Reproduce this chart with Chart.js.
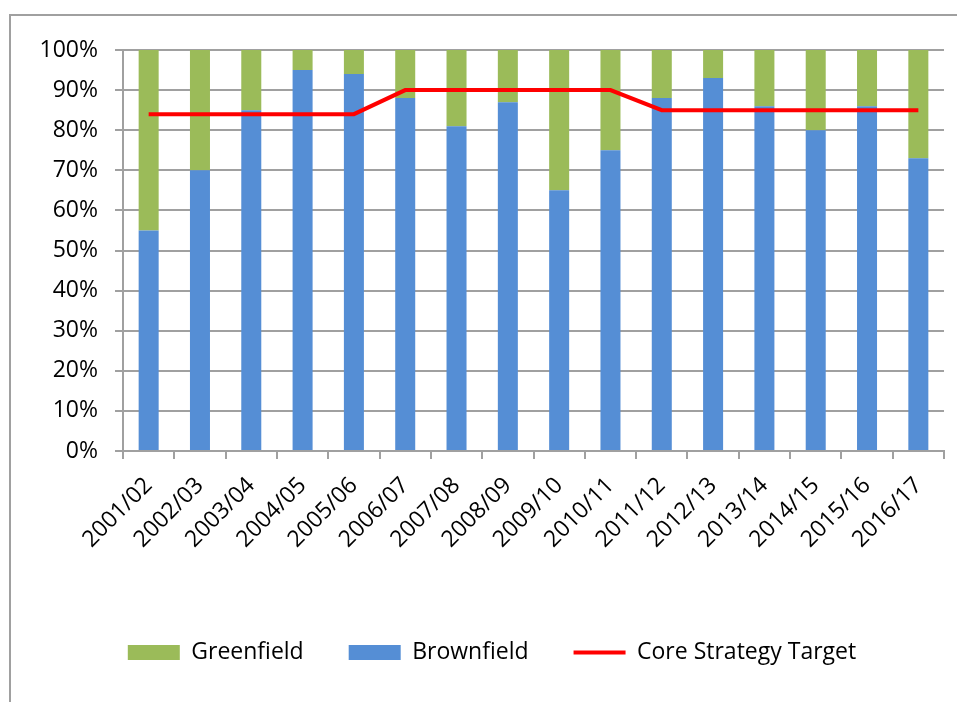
<!DOCTYPE html>
<html>
<head>
<meta charset="utf-8">
<script src="https://cdn.jsdelivr.net/npm/chart.js@4.4.1/dist/chart.umd.min.js"></script>
<style>
  body { margin: 0; background: #fff; overflow: hidden; }
  #frame { position: absolute; left: 9px; top: 14px; width: 1000px; height: 800px;
           border-top: 2px solid #a0a0a0; border-left: 2px solid #a0a0a0; }
  #wrap { position: absolute; left: 0; top: 0; width: 957px; height: 702px; }
</style>
</head>
<body>
<div id="frame"></div>
<div id="wrap"><canvas id="chart"></canvas></div>
<script>
const years = ['2001/02', '2002/03', '2003/04', '2004/05', '2005/06', '2006/07', '2007/08', '2008/09',
    '2009/10', '2010/11', '2011/12', '2012/13', '2013/14', '2014/15', '2015/16', '2016/17'];
const brownfield = [55, 70, 85, 95, 94, 88, 81, 87, 65, 75, 88, 93, 86, 80, 86, 73];
const greenfield = [45, 30, 15, 5, 6, 12, 19, 13, 35, 25, 12, 7, 14, 20, 14, 27];
const coreTarget = [84, 84, 84, 84, 84, 90, 90, 90, 90, 90, 85, 85, 85, 85, 85, 85];

// legend shows Greenfield first, then Brownfield, then the target line
const legendRank = [1, 0, 2];

const font = { family: '"Open Sans", sans-serif', size: 23 };
const gridGrey = '#a0a0a0';

window.landChart = {
    chart: null,
    render: function (canvasId) {
        const ctx = document.getElementById(canvasId).getContext('2d');
        if (window.landChart.chart) {
            window.landChart.chart.destroy();
        }
        window.landChart.chart = new Chart(ctx, {
            type: 'bar',
            data: {
                labels: years,
                datasets: [{
                    label: 'Brownfield',
                    data: brownfield,
                    backgroundColor: '#558ED5',
                    borderWidth: 0,
                    pointStyle: 'rect',
                    stack: 'land',
                    barPercentage: 0.39,
                    categoryPercentage: 1
                }, {
                    label: 'Greenfield',
                    data: greenfield,
                    backgroundColor: '#9BBB59',
                    borderWidth: 0,
                    pointStyle: 'rect',
                    stack: 'land',
                    barPercentage: 0.39,
                    categoryPercentage: 1
                }, {
                    type: 'line',
                    label: 'Core Strategy Target',
                    data: coreTarget,
                    borderColor: '#FF0000',
                    backgroundColor: '#FF0000',
                    borderWidth: 4,
                    pointRadius: 0,
                    pointStyle: 'line',
                    tension: 0,
                    fill: false,
                    stack: 'target',
                    order: -1
                }]
            },
            options: {
                responsive: true,
                maintainAspectRatio: false,
                animation: false,
                layout: { padding: { left: 40, right: 13, top: 50, bottom: 28 } },
                plugins: {
                    tooltip: { enabled: false },
                    legend: {
                        position: 'bottom',
                        labels: {
                            font: font,
                            color: '#000',
                            usePointStyle: true,
                            pointStyleWidth: 52,
                            boxHeight: 15,
                            padding: 45,
                            sort: (a, b) => legendRank[a.datasetIndex] - legendRank[b.datasetIndex]
                        }
                    }
                },
                scales: {
                    x: {
                        stacked: true,
                        offset: true,
                        grid: {
                            offset: true,
                            drawOnChartArea: false,
                            drawTicks: true,
                            tickLength: 8,
                            color: gridGrey,
                            lineWidth: 2
                        },
                        border: { color: gridGrey, width: 2 },
                        ticks: {
                            font: font,
                            color: '#000',
                            minRotation: 45,
                            maxRotation: 45,
                            autoSkip: false,
                            padding: 13
                        },
                        afterFit: function (scale) { scale.height = 145; }
                    },
                    y: {
                        stacked: true,
                        min: 0,
                        max: 100,
                        grid: {
                            color: gridGrey,
                            lineWidth: 2,
                            tickLength: 8
                        },
                        border: { color: gridGrey, width: 2 },
                        ticks: {
                            stepSize: 10,
                            font: font,
                            color: '#000',
                            padding: 17,
                            callback: v => v + '%'
                        },
                        afterFit: function (scale) { scale.width = 83; }
                    }
                }
            }
        });
    }
};

window.landChart.render('chart');
</script>
</body>
</html>
